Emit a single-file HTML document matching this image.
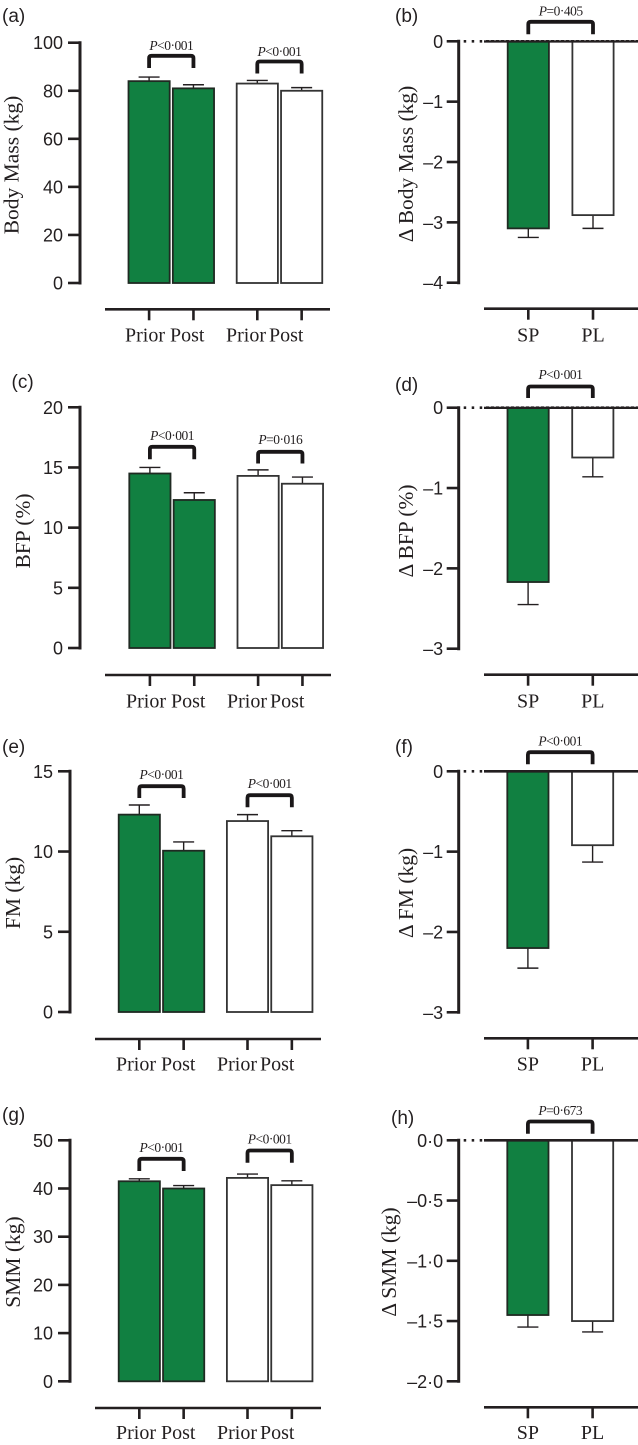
<!DOCTYPE html>
<html lang="en">
<head>
<meta charset="utf-8">
<title>Body composition bar charts</title>
<style>
html,body{margin:0;padding:0;background:#fff;}
#fig{display:block;width:638px;height:1445px;}
.tick{font:18px "Liberation Sans",sans-serif;fill:#231f20;}
.ylab{font:21.5px "Liberation Serif",serif;fill:#231f20;}
.cat{font:20px "Liberation Serif",serif;fill:#231f20;}
.pval{font:13.5px "Liberation Serif",serif;fill:#231f20;letter-spacing:-0.5px;}
.panel{font:19px "Liberation Sans",sans-serif;fill:#231f20;}
</style>
</head>
<body>
<svg id="fig" xmlns="http://www.w3.org/2000/svg" width="638" height="1445" viewBox="0 0 638 1445"></svg>
<script>
// ---- Data ----
const groupCategories = ['Prior', 'Post', 'Prior', 'Post'];
const deltaCategories = ['SP', 'PL'];

const bodyMassValues = [84, 81, 83, 80];
const bodyMassErrors = [85.7, 82.5, 84.3, 81.3];
const bodyMassTicks = [0, 20, 40, 60, 80, 100];
const bodyMassTickLabels = ['0', '20', '40', '60', '80', '100'];

const deltaBodyMassValues = [-3.1, -2.88];
const deltaBodyMassErrors = [-3.25, -3.1];
const deltaBodyMassTicks = [0, -1, -2, -3, -4];
const deltaBodyMassTickLabels = ['0', '\u20131', '\u20132', '\u20133', '\u20134'];

const bfpValues = [14.5, 12.3, 14.3, 13.65];
const bfpErrors = [15.0, 12.9, 14.8, 14.2];
const bfpTicks = [0, 5, 10, 15, 20];
const bfpTickLabels = ['0', '5', '10', '15', '20'];

const deltaBfpValues = [-2.17, -0.62];
const deltaBfpErrors = [-2.45, -0.86];
const deltaBfpTicks = [0, -1, -2, -3];
const deltaBfpTickLabels = ['0', '\u20131', '\u20132', '\u20133'];

const fmValues = [12.3, 10.05, 11.9, 10.95];
const fmErrors = [12.9, 10.6, 12.3, 11.3];
const fmTicks = [0, 5, 10, 15];
const fmTickLabels = ['0', '5', '10', '15'];

const deltaFmValues = [-2.2, -0.92];
const deltaFmErrors = [-2.45, -1.13];
const deltaFmTicks = [0, -1, -2, -3];
const deltaFmTickLabels = ['0', '\u20131', '\u20132', '\u20133'];

const smmValues = [41.5, 40, 42.2, 40.7];
const smmErrors = [42.0, 40.6, 43, 41.6];
const smmTicks = [0, 10, 20, 30, 40, 50];
const smmTickLabels = ['0', '10', '20', '30', '40', '50'];

const deltaSmmValues = [-1.45, -1.5];
const deltaSmmErrors = [-1.55, -1.59];
const deltaSmmTicks = [0, -0.5, -1, -1.5, -2];
const deltaSmmTickLabels = ['0\u00b70', '\u20130\u00b75', '\u20131\u00b70', '\u20131\u00b75', '\u20132\u00b70'];

// ---- Panel layout ----
const panels = [
 {id:'a',kind:'group',values:bodyMassValues,errors:bodyMassErrors,ticks:bodyMassTicks,tickLabels:bodyMassTickLabels,
  title:'Body Mass (kg)',titleX:18.5,titleY:165,axisX:80,top:42.7,bot:283,base:309.3,catY:341.7,x0:128.5,lineL:105,lineR:330,catShift:0,
  lx:2,ly:22,brackets:[{p:'<0\u00b7001',t:54.3,b:68,ty:50},{p:'<0\u00b7001',t:60,b:73.5,ty:56}]},
 {id:'b',kind:'delta',dotted:true,values:deltaBodyMassValues,errors:deltaBodyMassErrors,ticks:deltaBodyMassTicks,tickLabels:deltaBodyMassTickLabels,
  title:'\u0394 Body Mass (kg)',titleX:413,titleY:164,axisX:458.7,top:41.3,bot:282.7,base:308.7,catY:341.7,x0:507.7,lineL:484,lineR:638,
  lx:395,ly:22,brackets:[{p:'=0\u00b7405',t:20.3,b:34.3,ty:15.7}]},
 {id:'c',kind:'group',values:bfpValues,errors:bfpErrors,ticks:bfpTicks,tickLabels:bfpTickLabels,
  title:'BFP (%)',titleX:30,titleY:531,axisX:80,top:407.3,bot:648,base:675,catY:707.7,x0:129.3,lineL:105,lineR:331,catShift:1,
  lx:11.5,ly:388,brackets:[{p:'<0\u00b7001',t:445.3,b:459.3,ty:440},{p:'=0\u00b7016',t:450.3,b:463.5,ty:444}]},
 {id:'d',kind:'delta',dotted:true,values:deltaBfpValues,errors:deltaBfpErrors,ticks:deltaBfpTicks,tickLabels:deltaBfpTickLabels,
  title:'\u0394 BFP (%)',titleX:413,titleY:531,axisX:458.7,top:407.7,bot:648.7,base:674.7,catY:707.7,x0:507.5,lineL:484,lineR:638,
  lx:395,ly:391,brackets:[{p:'<0\u00b7001',t:385,b:398,ty:379}]},
 {id:'e',kind:'group',values:fmValues,errors:fmErrors,ticks:fmTicks,tickLabels:fmTickLabels,
  title:'FM (kg)',titleX:20,titleY:893,axisX:70,top:771.3,bot:1012,base:1039,catY:1070.7,x0:118.7,lineL:95,lineR:321,catShift:-9,
  lx:2,ly:753,brackets:[{p:'<0\u00b7001',t:784.7,b:798,ty:779},{p:'<0\u00b7001',t:793.7,b:807.3,ty:788}]},
 {id:'f',kind:'delta',values:deltaFmValues,errors:deltaFmErrors,ticks:deltaFmTicks,tickLabels:deltaFmTickLabels,
  title:'\u0394 FM (kg)',titleX:413,titleY:893,axisX:458.7,top:771.3,bot:1012.3,base:1038.3,catY:1070.7,x0:507.3,lineL:484,lineR:638,
  lx:395,ly:753,brackets:[{p:'<0\u00b7001',t:750.7,b:764.3,ty:745.3}]},
 {id:'g',kind:'group',values:smmValues,errors:smmErrors,ticks:smmTicks,tickLabels:smmTickLabels,
  title:'SMM (kg)',titleX:20,titleY:1262,axisX:70,top:1140.3,bot:1381.3,base:1408,catY:1439,x0:118.7,lineL:95,lineR:321,catShift:-9,
  lx:2,ly:1121,brackets:[{p:'<0\u00b7001',t:1157.3,b:1171,ty:1152},{p:'<0\u00b7001',t:1149,b:1162.7,ty:1143.7}]},
 {id:'h',kind:'delta',values:deltaSmmValues,errors:deltaSmmErrors,ticks:deltaSmmTicks,tickLabels:deltaSmmTickLabels,
  title:'\u0394 SMM (kg)',titleX:396,titleY:1262,axisX:458.7,top:1140.3,bot:1381.3,base:1407.3,catY:1439,x0:507.3,lineL:484,lineR:638,
  lx:391,ly:1124,brackets:[{p:'=0\u00b7673',t:1120,b:1133.7,ty:1115}]}
];

const INK = '#231f20';
const GREEN = '#118041';
const BAR_W = 41.2;
const svgRoot = document.getElementById('fig');

function make(parent, tag, name, attrs, text) {
  const el = document.createElementNS('http://www.w3.org/2000/svg', tag);
  
  
  for (const k in attrs) el.setAttribute(k, attrs[k]);
  if (text !== undefined) el.textContent = text;
  parent.appendChild(el);
  return el;
}
function line(parent, name, x1, y1, x2, y2, w, color, extra) {
  return make(parent, 'line', name, Object.assign({x1:x1, y1:y1, x2:x2, y2:y2, stroke:color || INK, 'stroke-width':w}, extra || {}));
}

function drawPanel(p) {
  const g = make(svgRoot, 'g', 'panel-' + p.id, {});
  const minV = Math.min.apply(null, p.ticks), maxV = Math.max.apply(null, p.ticks);
  // axis functions
  const yScale = v => p.top + (maxV - v) / (maxV - minV) * (p.bot - p.top);
  const xLeft = i => p.kind === 'group' ? p.x0 + i * 44.35 + (i >= 2 ? 19.5 : 0) : p.x0 + i * 64.7;
  const xMid = i => xLeft(i) + BAR_W / 2;
  const zero = yScale(0);
  const labelGap = p.kind === 'group' ? 17 : 15.5;

  make(g, 'text', 'panel-label-' + p.id, {x:p.lx, y:p.ly, class:'panel'}, '(' + p.id + ')');

  // y axis
  line(g, 'y-axis-' + p.id, p.axisX, p.top - 1.5, p.axisX, p.bot + 1.5, 3);
  p.ticks.forEach((t, i) => {
    line(g, 'y-tick-' + p.id, p.axisX - 12, yScale(t), p.axisX, yScale(t), 2.6);
    make(g, 'text', 'y-tick-label-' + p.id, {x:p.axisX - labelGap, y:yScale(t) + 6.5, 'text-anchor':'end', class:'tick'}, p.tickLabels[i]);
  });
  make(g, 'text', 'y-axis-title-' + p.id, {
    x:p.titleX, y:p.titleY, 'text-anchor':'middle', class:'ylab',
    transform:'rotate(-90 ' + p.titleX + ' ' + p.titleY + ')'
  }, p.title);

  // bars and error bars
  p.values.forEach((v, i) => {
    const isDrug = p.kind === 'group' ? i < 2 : i === 0;
    const err = p.errors[i];
    line(g, 'error-stem-' + p.id + '-' + i, xMid(i), yScale(v), xMid(i), yScale(err), 1.4);
    line(g, 'error-cap-' + p.id + '-' + i, xMid(i) - 10.5, yScale(err), xMid(i) + 10.5, yScale(err), 1.4);
    make(g, 'rect', 'bar-' + p.id + '-' + i, {
      x:xLeft(i), y:Math.min(yScale(v), zero), width:BAR_W, height:Math.abs(yScale(v) - zero),
      fill:isDrug ? GREEN : '#fff', stroke:isDrug ? '#1f2a22' : '#333', 'stroke-width':1.8
    });
  });

  // zero line for delta panels
  if (p.kind === 'delta') {
    line(g, 'zero-line-dots-' + p.id, p.axisX + 5, zero, p.lineL, zero, 2.6, INK, {'stroke-dasharray':'2.5 5.5'});
    line(g, 'zero-line-' + p.id, p.lineL, zero, p.lineR, zero, 2.6);
    if (p.dotted) {
      line(g, 'zero-line-dotted-overlay-' + p.id, p.lineL, zero - 1.1, p.lineR, zero - 1.1, 0.7, '#fff', {'stroke-dasharray':'2 3', opacity:0.6});
    }
  }

  // x axis
  line(g, 'x-axis-' + p.id, p.lineL, p.base, p.lineR, p.base, 2.6);
  p.values.forEach((v, i) => {
    line(g, 'x-tick-' + p.id + '-' + i, xMid(i), p.base, xMid(i), p.base + 11, 2.6);
  });
  if (p.kind === 'group') {
    const catX = [125, 170, 226, 269];
    groupCategories.forEach((c, i) => {
      make(g, 'text', 'category-label-' + p.id + '-' + i, {x:catX[i] + p.catShift, y:p.catY, class:'cat'}, c);
    });
  } else {
    deltaCategories.forEach((c, i) => {
      make(g, 'text', 'category-label-' + p.id + '-' + i, {x:xMid(i), y:p.catY, 'text-anchor':'middle', class:'cat'}, c);
    });
  }

  // significance brackets
  p.brackets.forEach((b, k) => {
    const a = p.kind === 'group' ? xMid(k * 2) : xMid(0);
    const z = p.kind === 'group' ? xMid(k * 2 + 1) : xMid(1);
    const r = 2.5, yt = b.t + 1.5;
    make(g, 'path', 'significance-bracket-' + p.id + '-' + k, {
      d:'M' + a + ' ' + b.b + 'V' + (yt + r) + 'Q' + a + ' ' + yt + ' ' + (a + r) + ' ' + yt +
        'H' + (z - r) + 'Q' + z + ' ' + yt + ' ' + z + ' ' + (yt + r) + 'V' + b.b,
      fill:'none', stroke:'#1a1718', 'stroke-width':3.8
    });
    const t = make(g, 'text', 'p-value-label-' + p.id + '-' + k, {x:(a + z) / 2, y:b.ty, 'text-anchor':'middle', class:'pval'});
    make(t, 'tspan', 'p-italic-' + p.id + '-' + k, {'font-style':'italic'}, 'P');
    make(t, 'tspan', 'p-value-' + p.id + '-' + k, {}, b.p);
  });
}
panels.forEach(drawPanel);
</script>
</body>
</html>
